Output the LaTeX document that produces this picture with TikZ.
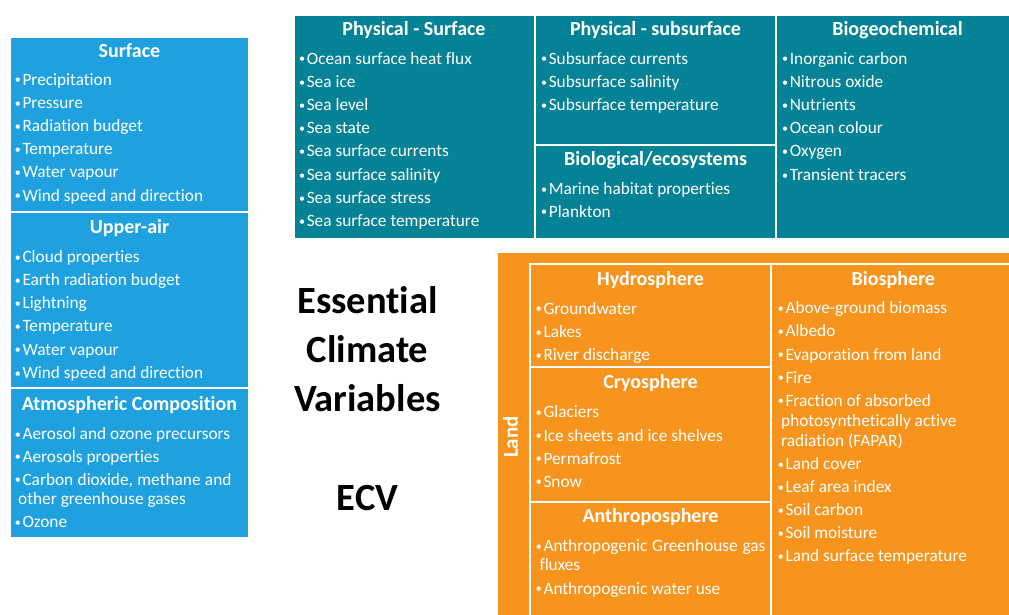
\documentclass[tikz,border=0pt]{standalone}
\usepackage{fontspec}
\setmainfont{Carlito}[Ligatures=NoCommon]
\definecolor{ecvblue}{RGB}{31,161,223}
\definecolor{ecvteal}{RGB}{5,130,150}
\definecolor{ecvorange}{RGB}{247,148,30}
\newcommand\bul{\makebox[7.6pt][l]{\raisebox{1.2pt}{\fontsize{12}{12}\selectfont •}}}
\tikzset{
  box/.style={draw=white, line width=1.2pt},
  sep/.style={draw=white, line width=1.2pt},
  itm/.style={anchor=base west, inner sep=0pt, text=white, font=\fontsize{17.3}{20}\selectfont},
  hd/.style={anchor=base, inner sep=0pt, text=white, font=\bfseries\fontsize{20}{24}\selectfont},
  big/.style={anchor=base, inner sep=0pt, text=black, font=\bfseries\fontsize{38.5}{44}\selectfont},
}
\begin{document}
\begin{tikzpicture}[x=1pt,y=-1pt]
\useasboundingbox (0,0) rectangle (1009,614);
\fill[white] (0,0) rectangle (1009,614);
% ---------- Atmosphere (blue) ----------
\path[box, fill=ecvblue] (10,37) rectangle (249,212);
\path[box, fill=ecvblue] (10,212) rectangle (249,388);
\path[box, fill=ecvblue] (10,388) rectangle (249,538);
\node[hd] (hsurf) at (129.5,57.7) {Surface};
\foreach \t [count=\i] in {Precipitation,Pressure,Radiation budget,Temperature,Water vapour,Wind speed and direction}
  \node[itm] (sf\i) at (14.7,61.8+23.2*\i) {\bul\t};
\node[hd] (hupper) at (129.5,233.3) {Upper-air};
\foreach \t [count=\i] in {Cloud properties,Earth radiation budget,Lightning,Temperature,Water vapour,Wind speed and direction}
  \node[itm] (ua\i) at (14.7,239.1+23.2*\i) {\bul\t};
\node[hd] (hatm) at (129.5,410) {Atmospheric Composition};
\node[itm] (ac1) at (14.7,439.3) {\bul Aerosol and ozone precursors};
\node[itm] (ac2) at (14.7,462) {\bul Aerosols properties};
\node[itm] (ac3) at (14.7,485) {\bul\makebox[209pt][s]{Carbon dioxide, methane and}};
\node[itm] (ac3b) at (18,504) {other greenhouse gases};
\node[itm] (ac4) at (14.7,527.5) {\bul Ozone};
% ---------- Ocean (teal) ----------
\path[box, fill=ecvteal] (294,15) rectangle (1015,239);
\draw[sep] (535,15) -- (535,239);
\draw[sep] (776,15) -- (776,239);
\draw[sep] (535,145) -- (776,145);
\node[hd] (hps) at (414,35) {Physical - Surface};
\foreach \t [count=\i] in {Ocean surface heat flux,Sea ice,Sea level,Sea state,Sea surface currents,Sea surface salinity,Sea surface stress,Sea surface temperature}
  \node[itm] (ps\i) at (299,40.76+23.24*\i) {\bul\t};
\node[hd] (hpss) at (655.5,35) {Physical - subsurface};
\foreach \t [count=\i] in {Subsurface currents,Subsurface salinity,Subsurface temperature}
  \node[itm] (pss\i) at (541,40.76+23.24*\i) {\bul\t};
\node[hd] (hbio) at (655.5,165) {Biological/ecosystems};
\node[itm] (be1) at (541,194.3) {\bul Marine habitat properties};
\node[itm] (be2) at (541,217) {\bul Plankton};
\node[hd] (hbgc) at (897.5,35) {Biogeochemical};
\foreach \t [count=\i] in {Inorganic carbon,Nitrous oxide,Nutrients,Ocean colour,Oxygen,Transient tracers}
  \node[itm] (bg\i) at (782,40.76+23.24*\i) {\bul\t};
% ---------- Land (orange) ----------
\path[box, fill=ecvorange] (497,252) rectangle (1015,620);
\path[box] (530,264) rectangle (1015,620);
\draw[sep] (771,264) -- (771,620);
\draw[sep] (530,367) -- (771,367);
\draw[sep] (530,502) -- (771,502);
\node[hd, anchor=center, rotate=90, font=\bfseries\fontsize{21}{24}\selectfont] (land) at (510.5,437) {Land};
\node[hd] (hhyd) at (650.5,285) {Hydrosphere};
\node[itm] (hy1) at (535.7,314) {\bul Groundwater};
\node[itm] (hy2) at (535.7,337.3) {\bul Lakes};
\node[itm] (hy3) at (535.7,360.6) {\bul River discharge};
\node[hd] (hcry) at (650.5,388.3) {Cryosphere};
\node[itm] (cr1) at (535.7,417.7) {\bul Glaciers};
\node[itm] (cr2) at (535.7,441) {\bul Ice sheets and ice shelves};
\node[itm] (cr3) at (535.7,464) {\bul Permafrost};
\node[itm] (cr4) at (535.7,487) {\bul Snow};
\node[hd] (hant) at (650.5,522.3) {Anthroposphere};
\node[itm] (an1) at (535.7,551.7) {\bul\makebox[222pt][s]{Anthropogenic Greenhouse gas}};
\node[itm] (an1b) at (539.3,570.7) {fluxes};
\node[itm] (an2) at (535.7,594) {\bul Anthropogenic water use};
\node[hd] (hbios) at (893.3,285) {Biosphere};
\node[itm] (bs1) at (777.7,313.3) {\bul Above-ground biomass};
\node[itm] (bs2) at (777.7,336.7) {\bul Albedo};
\node[itm] (bs3) at (777.7,360) {\bul Evaporation from land};
\node[itm] (bs4) at (777.7,383) {\bul Fire};
\node[itm] (bs5) at (777.7,406) {\bul Fraction of absorbed};
\node[itm] (bs5b) at (781,426.7) {photosynthetically active};
\node[itm] (bs5c) at (781,446.7) {radiation (FAPAR)};
\node[itm] (bs6) at (777.7,469.3) {\bul Land cover};
\node[itm] (bs7) at (777.7,492.3) {\bul Leaf area index};
\node[itm] (bs8) at (777.7,515.7) {\bul Soil carbon};
\node[itm] (bs9) at (777.7,538.7) {\bul Soil moisture};
\node[itm] (bs10) at (777.7,561.7) {\bul Land surface temperature};
% ---------- Title ----------
\node[big] (t1) at (367.5,313.3) {Essential};
\node[big] (t2) at (367.5,362.7) {Climate};
\node[big] (t3) at (367.5,411.7) {Variables};
\node[big] (t4) at (367.5,510.7) {ECV};
\end{tikzpicture}
\end{document}
